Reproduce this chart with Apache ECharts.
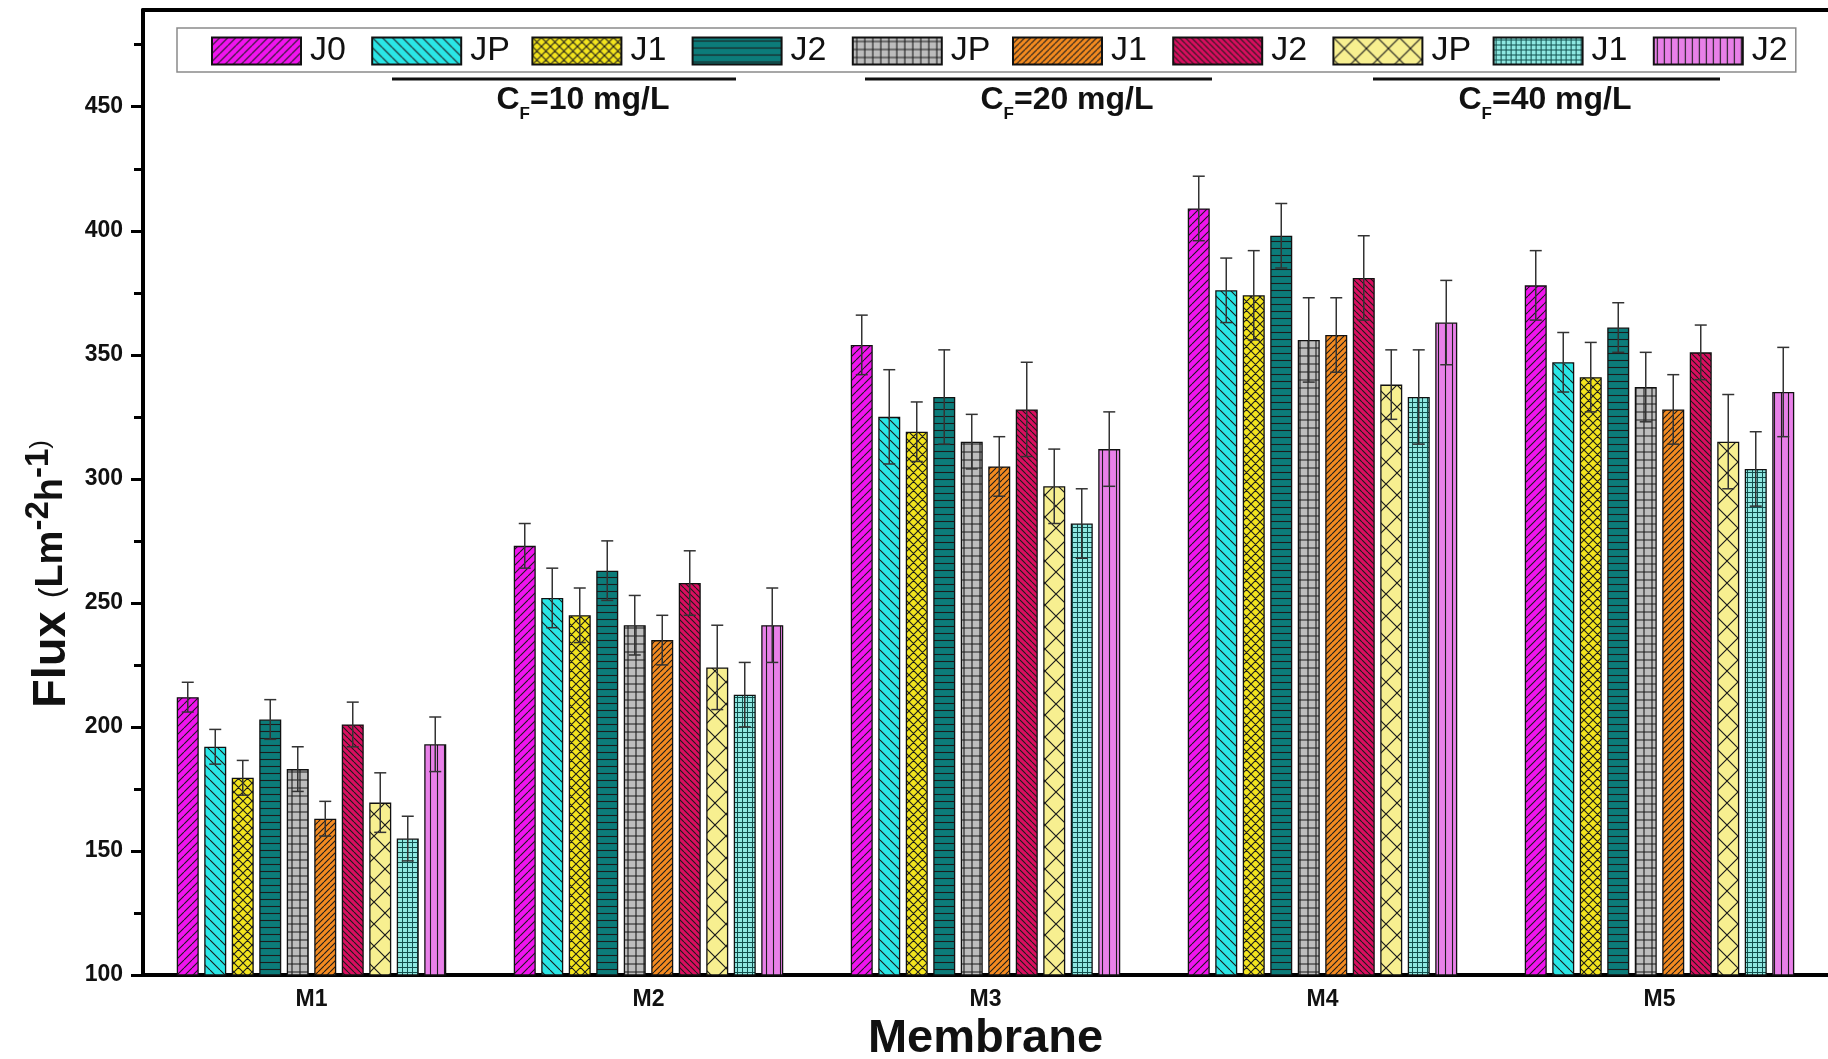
<!DOCTYPE html>
<html>
<head>
<meta charset="utf-8">
<script src="https://cdn.jsdelivr.net/npm/echarts@6/dist/echarts.min.js"></script>
<style>
  html, body { margin: 0; padding: 0; background: #fff; }
  #chart { width: 1828px; height: 1059px; }
</style>
</head>
<body>
<div id="chart"></div>
<script>
// Membranes on the x axis
const membranes = ['M1', 'M2', 'M3', 'M4', 'M5'];

// One series per flux measurement; J0 is the pure-water flux,
// the others are grouped by feed concentration (10, 20, 40 mg/L)
const seriesNames = ['J0', 'JP (10 mg/L)', 'J1 (10 mg/L)', 'J2 (10 mg/L)',
  'JP (20 mg/L)', 'J1 (20 mg/L)', 'J2 (20 mg/L)',
  'JP (40 mg/L)', 'J1 (40 mg/L)', 'J2 (40 mg/L)'];
const legendLabels = ['J0', 'JP', 'J1', 'J2', 'JP', 'J1', 'J2', 'JP', 'J1', 'J2'];
const feedLabels = ['10', '20', '40'];

// Flux values (L m-2 h-1)
const fluxJ0   = [212, 273, 354, 409, 378];
const fluxJP10 = [192, 252, 325, 376, 347];
const fluxJ110 = [179.5, 245, 319, 374, 341];
const fluxJ210 = [203, 263, 333, 398, 361];
const fluxJP20 = [183, 241, 315, 356, 337];
const fluxJ120 = [163, 235, 305, 358, 328];
const fluxJ220 = [201, 258, 328, 381, 351];
const fluxJP40 = [169.5, 224, 297, 338, 315];
const fluxJ140 = [155, 213, 282, 333, 304];
const fluxJ240 = [193, 241, 312, 363, 335];

// Standard deviations
const errJ0   = [6, 9, 12, 13, 14];
const errJP10 = [7, 12, 19, 13, 12];
const errJ110 = [7, 11, 12, 18, 14];
const errJ210 = [8, 12, 19, 13, 10];
const errJP20 = [9, 12, 11, 17, 14];
const errJ120 = [7, 10, 12, 15, 14];
const errJ220 = [9, 13, 19, 17, 11];
const errJP40 = [12, 17, 15, 14, 19];
const errJ140 = [9, 13, 14, 19, 15];
const errJ240 = [11, 15, 15, 17, 18];

// Axis ticks
const yMajorTicks = [100, 150, 200, 250, 300, 350, 400, 450];
const yMinorTicks = [125, 175, 225, 275, 325, 375, 425, 475];

const fluxSeries = [fluxJ0, fluxJP10, fluxJ110, fluxJ210, fluxJP20, fluxJ120, fluxJ220, fluxJP40, fluxJ140, fluxJ240];
const errSeries  = [errJ0, errJP10, errJ110, errJ210, errJP20, errJ120, errJ220, errJP40, errJ140, errJ240];

// ---- hatch fills ----
function hatch(bg, kinds, size, lw, ink) {
  const c = document.createElement('canvas');
  c.width = c.height = size;
  const g = c.getContext('2d');
  g.fillStyle = bg;
  g.fillRect(0, 0, size, size);
  g.strokeStyle = ink || '#1c1c1c';
  g.lineWidth = lw;
  g.beginPath();
  const s = size;
  kinds.forEach(k => {
    if (k === 'fwd') { [-s, 0, s].forEach(o => { g.moveTo(o, s); g.lineTo(o + s, 0); }); }
    if (k === 'back') { [-s, 0, s].forEach(o => { g.moveTo(o, 0); g.lineTo(o + s, s); }); }
    if (k === 'h') { g.moveTo(0, s / 2); g.lineTo(s, s / 2); }
    if (k === 'v') { g.moveTo(s / 2, 0); g.lineTo(s / 2, s); }
  });
  g.stroke();
  return { image: c, repeat: 'repeat' };
}

const fills = [
  hatch('#f014ee', ['fwd'], 8, 1.1),
  hatch('#2ae6e6', ['back'], 10, 1.1),
  hatch('#f3e41e', ['fwd', 'back'], 9, 1.1),
  hatch('#0c7c7a', ['h'], 7, 1.1),
  hatch('#bdbdbd', ['h', 'v'], 8, 1.1),
  hatch('#f38a20', ['fwd'], 6, 1.1),
  hatch('#d90e5f', ['back'], 6, 1.1),
  hatch('#f7ef90', ['fwd', 'back'], 22, 1.2),
  hatch('#8ee8e1', ['h', 'v'], 5, 1.0, '#12504e'),
  hatch('#e880e8', ['v'], 7, 1.1)
];

const BAR_W = 22;
const BAR_STEP = 27.5; // bar width + 25% gap

const barSeries = seriesNames.map((name, k) => ({
  name: name,
  type: 'bar',
  data: fluxSeries[k],
  barWidth: BAR_W,
  barGap: '25%',
  itemStyle: { color: fills[k], borderColor: '#111', borderWidth: 1.3 },
  emphasis: { disabled: true },
  z: 2
}));

// error bars placed over each bar
const errorData = [];
fluxSeries.forEach((vals, k) => {
  vals.forEach((v, i) => errorData.push([i, v, errSeries[k][i], k]));
});

const errorSeries = {
  type: 'custom',
  name: 'sd',
  data: errorData,
  z: 5,
  silent: true,
  renderItem: function (params, api) {
    const cat = api.value(0), v = api.value(1), e = api.value(2), k = api.value(3);
    const c = api.coord([cat, v]);
    const x = c[0] + (k - 4.5) * BAR_STEP;
    const yt = api.coord([cat, v + e])[1];
    const yb = api.coord([cat, v - e])[1];
    const hw = 6;
    const st = { stroke: '#333', lineWidth: 1.5 };
    return {
      type: 'group',
      children: [
        { type: 'line', shape: { x1: x, y1: yt, x2: x, y2: yb }, style: st },
        { type: 'line', shape: { x1: x - hw, y1: yt, x2: x + hw, y2: yt }, style: st },
        { type: 'line', shape: { x1: x - hw, y1: yb, x2: x + hw, y2: yb }, style: st }
      ]
    };
  }
};

const FONT = 'Liberation Sans';

// feed concentration captions under the legend
const groupSpans = [[392, 736], [865, 1212], [1373, 1720]];
const captionX = [583, 1067, 1545];
const overlay = [];
feedLabels.forEach((f, i) => {
  overlay.push({
    type: 'line', z: 100,
    shape: { x1: groupSpans[i][0], y1: 79, x2: groupSpans[i][1], y2: 79 },
    style: { stroke: '#111', lineWidth: 3 }
  });
  overlay.push({
    type: 'text', z: 100,
    x: captionX[i], y: 100,
    style: {
      text: '{c|C}{f|F}{c|=' + f + ' mg/L}',
      align: 'center', verticalAlign: 'middle',
      rich: {
        c: { fontSize: 32, fontWeight: 'bold', fontFamily: FONT, fill: '#111' },
        f: { fontSize: 17, fontWeight: 'bold', fontFamily: FONT, fill: '#111', padding: [28, 0, 0, 0] }
      }
    }
  });
});

// y axis title, read bottom to top
overlay.push({
  type: 'text', z: 100,
  x: 52, y: 574,
  rotation: Math.PI / 2,
  style: {
    text: '{b|Flux }{p|(}{m|Lm}{s|-2}{m|h}{s|-1}{q|)}',
    align: 'center', verticalAlign: 'middle',
    rich: {
      b: { fontSize: 47, fontWeight: 'bold', fontFamily: FONT, fill: '#111' },
      p: { fontSize: 32, fontFamily: FONT, fill: '#111' },
      m: { fontSize: 38, fontWeight: 'bold', fontFamily: FONT, fill: '#111' },
      s: { fontSize: 33, fontWeight: 'bold', fontFamily: FONT, fill: '#111', padding: [0, 0, 26, 0] },
      q: { fontSize: 26, fontFamily: FONT, fill: '#111', padding: [0, 0, 22, 0] }
    }
  }
});

const chart = echarts.init(document.getElementById('chart'), null, { renderer: 'canvas' });
chart.setOption({
  animation: false,
  backgroundColor: '#fff',
  grid: { left: 143, right: 0, top: 10, bottom: 84, containLabel: false, outerBoundsMode: 'none' },
  legend: {
    data: seriesNames,
    left: 177, top: 28,
    padding: [6, 0, 4, 34],
    icon: 'rect',
    itemWidth: 89, itemHeight: 27, itemGap: 17.2,
    backgroundColor: '#fff',
    borderColor: '#8a8a8a', borderWidth: 1.5,
    selectedMode: false,
    formatter: name => '{t|' + legendLabels[seriesNames.indexOf(name)] + '}',
    textStyle: {
      rich: {
        t: { fontSize: 34, fontFamily: FONT, color: '#111', width: 44, lineHeight: 40, padding: [0, 0, 0, 4] }
      }
    }
  },
  xAxis: [{
    type: 'category',
    data: membranes,
    axisLine: { lineStyle: { color: '#000', width: 4 } },
    axisTick: { alignWithLabel: true, length: 8, lineStyle: { color: '#000', width: 3 } },
    axisLabel: { fontSize: 23, fontWeight: 'bold', fontFamily: FONT, color: '#111', margin: 13 },
    name: 'Membrane',
    nameLocation: 'middle',
    nameGap: 41,
    nameTextStyle: { fontSize: 47, fontWeight: 'bold', fontFamily: FONT, color: '#111', verticalAlign: 'top' },
    splitLine: { show: false }
  }, {
    type: 'category',
    position: 'top',
    data: membranes,
    axisLine: { lineStyle: { color: '#000', width: 4 } },
    axisTick: { show: false },
    axisLabel: { show: false },
    splitLine: { show: false }
  }],
  yAxis: [{
    type: 'value',
    min: 100, max: 489, interval: 50,
    axisLine: { show: true, lineStyle: { color: '#000', width: 4 } },
    axisTick: { show: true, length: 12, customValues: yMajorTicks, lineStyle: { color: '#000', width: 3 } },
    axisLabel: {
      customValues: yMajorTicks,
      fontSize: 23, fontWeight: 'bold', fontFamily: FONT, color: '#111', margin: 20
    },
    splitLine: { show: false }
  }, {
    type: 'value',
    min: 100, max: 489, interval: 50,
    position: 'left',
    axisLine: { show: false },
    axisTick: { show: true, length: 9, customValues: yMinorTicks, lineStyle: { color: '#000', width: 3 } },
    axisLabel: { show: false },
    splitLine: { show: false }
  }],
  series: barSeries.concat([errorSeries]),
  graphic: overlay
});
</script>
</body>
</html>
